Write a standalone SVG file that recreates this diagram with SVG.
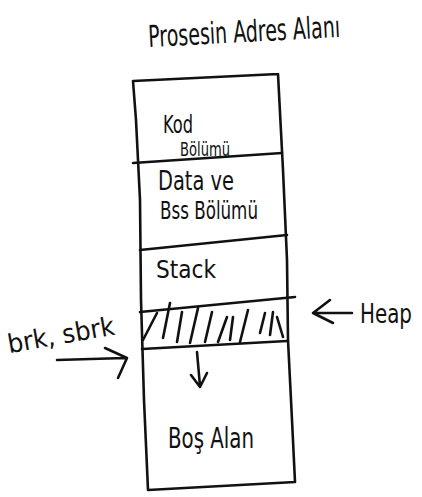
<svg xmlns="http://www.w3.org/2000/svg" width="422" height="497" viewBox="0 0 422 497">
  <style>
    .ink { fill: none; stroke: #111; stroke-width: 2.6; stroke-linecap: round; stroke-linejoin: round; }
    .hand { font-family: "DejaVu Sans Condensed", "DejaVu Sans", sans-serif; font-stretch: condensed; fill: #111; font-weight: 300; }
  </style>
  <rect width="422" height="497" fill="#fff"/>

  <g id="title">
    <text class="hand" x="148" y="42" font-size="30" textLength="192" lengthAdjust="spacingAndGlyphs" transform="rotate(-3 244 30)">Prosesin Adres Alanı</text>
  </g>

  <!-- memory column outline -->
  <g id="column">
    <path class="ink" d="M133 81 L278 74 M133 81 L136 120 L140 200 L141 300 L144 400 L148 490 L295 482 L292 420 L288 340 L287 260 L283 170 L278 74"/>
  </g>

  <g id="kod">
    <path class="ink" d="M133 163 L282 153"/>
    <text class="hand" x="163" y="133" font-size="24" textLength="30" lengthAdjust="spacingAndGlyphs">Kod</text>
    <text class="hand" x="180" y="156" font-size="20" textLength="50" lengthAdjust="spacingAndGlyphs">Bölümü</text>
  </g>

  <g id="data">
    <path class="ink" d="M140 250 L287 235"/>
    <text class="hand" x="158" y="190" font-size="26" textLength="76" lengthAdjust="spacingAndGlyphs">Data ve</text>
    <text class="hand" x="160" y="219" font-size="24" textLength="98" lengthAdjust="spacingAndGlyphs">Bss Bölümü</text>
  </g>

  <g id="stack">
    <text class="hand" x="156" y="278" font-size="25" textLength="60" lengthAdjust="spacingAndGlyphs">Stack</text>
  </g>

  <g id="heap">
    <path class="ink" d="M140 312 L295 297 M142 349 L287 341"/>
    <path class="ink" d="M143 340 L157 313 M163 338 L170 303 M177 342 L182 312 M190 343 L198 308 M205 342 L212 312 M218 342 L227 317 M230 340 L233 317 M240 342 L248 310 M260 333 L265 313 M270 335 L273 312 M277 317 L283 337"/>
    <text class="hand" x="360" y="323" font-size="26" textLength="52" lengthAdjust="spacingAndGlyphs">Heap</text>
  </g>

  <g id="brk">
    <text class="hand" x="6" y="344" font-size="26" textLength="108" lengthAdjust="spacingAndGlyphs" transform="rotate(-10 60 330)">brk, sbrk</text>
  </g>

  <g id="bos-alan">
    <text class="hand" x="168" y="448" font-size="28" textLength="86" lengthAdjust="spacingAndGlyphs">Boş Alan</text>
  </g>

  <g id="connectors">
    <!-- pointer into the heap break -->
    <path class="ink" d="M57 360 L125 358 M105 348 L127 358 L118 378"/>
    <!-- heap label arrow -->
    <path class="ink" d="M352 313 L313 313 M330 300 L313 313 L333 323"/>
    <!-- heap growth direction -->
    <path class="ink" d="M197 352 L200 386 M191 375 L200 387 L207 373"/>
  </g>
</svg>
